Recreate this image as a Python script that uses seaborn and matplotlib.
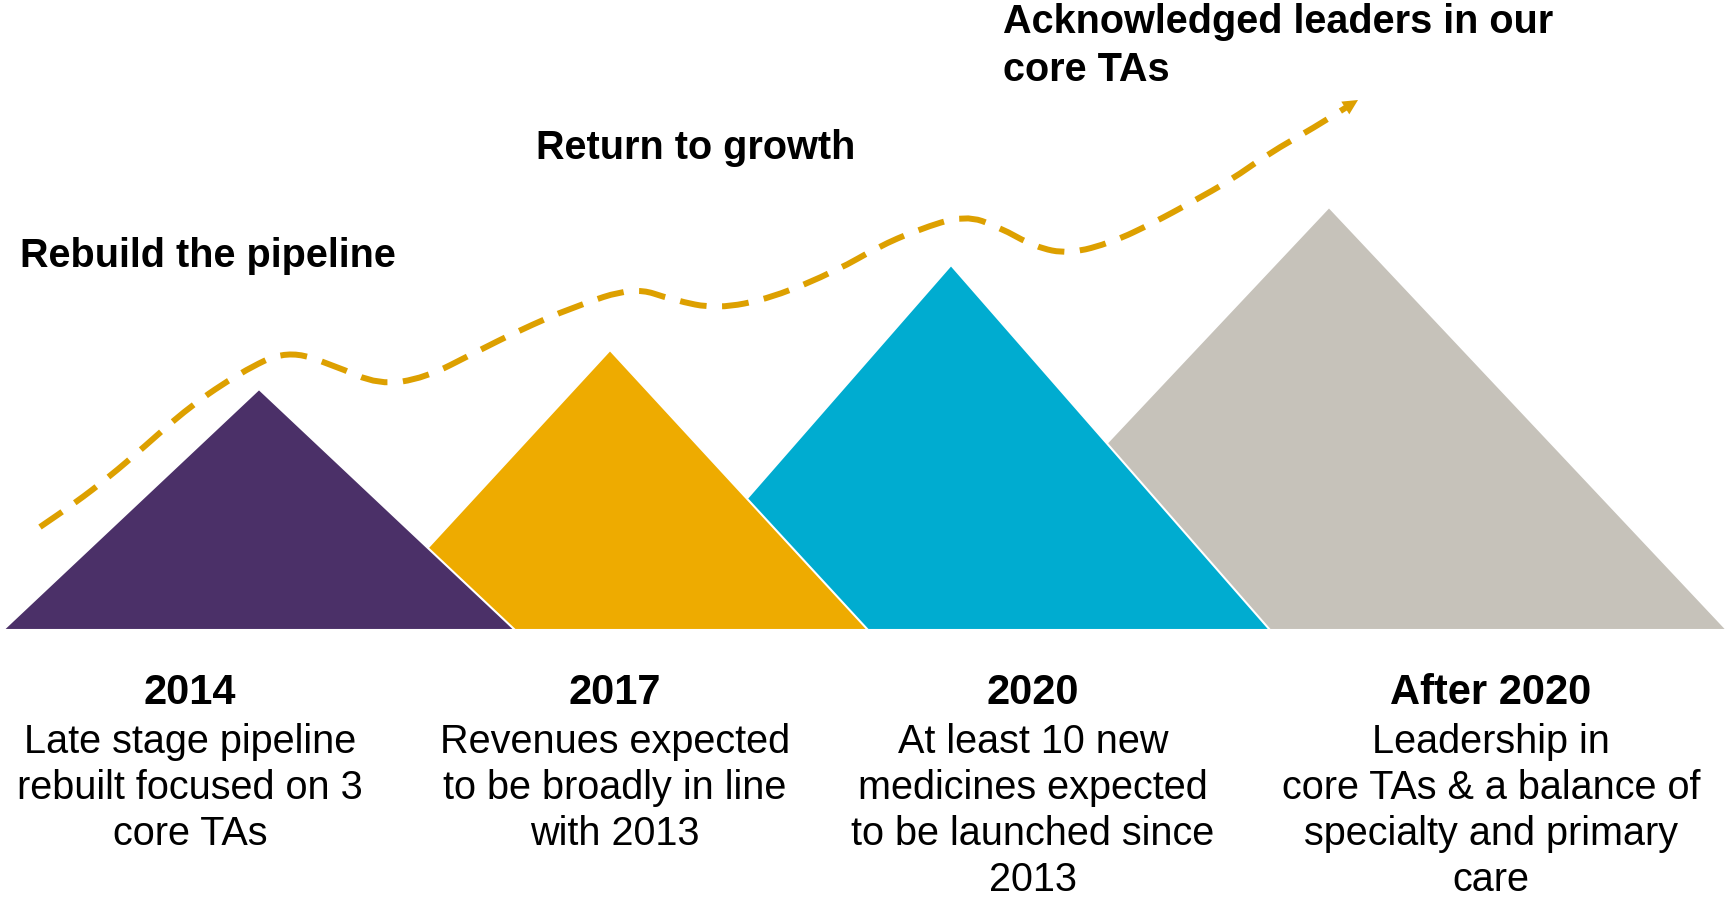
import matplotlib
matplotlib.use("Agg")
import matplotlib.pyplot as plt
from matplotlib.path import Path
from matplotlib.patches import PathPatch
import seaborn as sns

# %% data (pixel space, y grows downward)
stages = ["2014", "2017", "2020", "After 2020"]
stage_colors = ["#4B3068", "#EEAB00", "#00ACD0", "#C6C2BA"]
peak_x = [259, 610, 951, 1329]
peak_y = [389, 350, 265, 207]
half_width = [256, 258, 319, 398]
base_y = 630

descriptions = [
    ["Late stage pipeline", "rebuilt focused on 3", "core TAs"],
    ["Revenues expected", "to be broadly in line", "with 2013"],
    ["At least 10 new", "medicines expected", "to be launched since", "2013"],
    ["Leadership in", "core TAs & a balance of", "specialty and primary", "care"],
]
label_x = [190, 615, 1033, 1491]

curve_x = [40, 75, 109, 144, 189, 241, 287, 333, 379, 425, 476, 518, 573, 634,
           673, 717, 772, 838, 878, 917, 965, 999, 1035, 1069, 1113, 1153,
           1192, 1231, 1268, 1315, 1350]
curve_y = [527, 503, 477, 447, 407, 372, 350, 365, 385, 378, 352, 331, 307, 287,
           300, 309, 298, 270, 247, 230, 215, 227, 247, 254, 242, 223,
           202, 180, 154, 127, 105]

headlines = ["Rebuild the pipeline", "Return to growth",
             ["Acknowledged leaders in our", "core TAs"]]

# %%
sns.set_theme(style="white")
plt.rcParams["font.family"] = ["Liberation Sans", "DejaVu Sans"]
plt.rcParams["text.color"] = "black"

fig = plt.figure(figsize=(17.29, 9.02), dpi=100)
ax = fig.add_axes([0, 0, 1, 1])
ax.set_xlim(0, 1729)
ax.set_ylim(902, 0)
ax.axis("off")

# mountains: back one first, so the earlier stage sits in front
for i in reversed(range(len(stages))):
    tri = [(peak_x[i] - half_width[i], base_y), (peak_x[i], peak_y[i]),
           (peak_x[i] + half_width[i], base_y)]
    ax.add_patch(plt.Polygon(tri, closed=True, facecolor=stage_colors[i],
                             edgecolor="white", linewidth=1.5, zorder=2 + (3 - i)))

# dashed growth path, smoothed through the read points
pts = list(zip(curve_x, curve_y))
verts = [pts[0], ((pts[0][0] + pts[1][0]) / 2, (pts[0][1] + pts[1][1]) / 2)]
codes = [Path.MOVETO, Path.LINETO]
for k in range(1, len(pts) - 1):
    mid = ((pts[k][0] + pts[k + 1][0]) / 2, (pts[k][1] + pts[k + 1][1]) / 2)
    verts += [pts[k], mid]
    codes += [Path.CURVE3, Path.CURVE3]
verts.append(pts[-1])
codes.append(Path.LINETO)
ax.add_patch(PathPatch(Path(verts, codes), fill=False, edgecolor="#DDA000",
                       linewidth=4.3, linestyle=(0, (4.5, 2.6)), capstyle="butt",
                       zorder=10))
ax.annotate("", xy=(curve_x[-1] + 8, curve_y[-1] - 5),
            xytext=(curve_x[-2], curve_y[-2]),
            arrowprops=dict(arrowstyle="-|>,head_length=0.9,head_width=0.45",
                            color="#DDA000", lw=0, shrinkA=0, shrinkB=0), zorder=11)

# headlines
ax.text(20, 267, headlines[0], fontsize=28.5, fontweight="bold", va="baseline", ha="left")
ax.text(536, 159, headlines[1], fontsize=28.5, fontweight="bold", va="baseline", ha="left")
for j, line in enumerate(headlines[2]):
    ax.text(1003, 33 + j * 48, line, fontsize=28.5, fontweight="bold",
            va="baseline", ha="left")

# stage captions
for i in range(len(stages)):
    ax.text(label_x[i], 704, stages[i], fontsize=30, fontweight="bold",
            ha="center", va="baseline")
    for j, line in enumerate(descriptions[i]):
        ax.text(label_x[i], 753 + j * 46, line, fontsize=28.5, ha="center",
                va="baseline")

fig.savefig("out.png", dpi=100, facecolor="white")
